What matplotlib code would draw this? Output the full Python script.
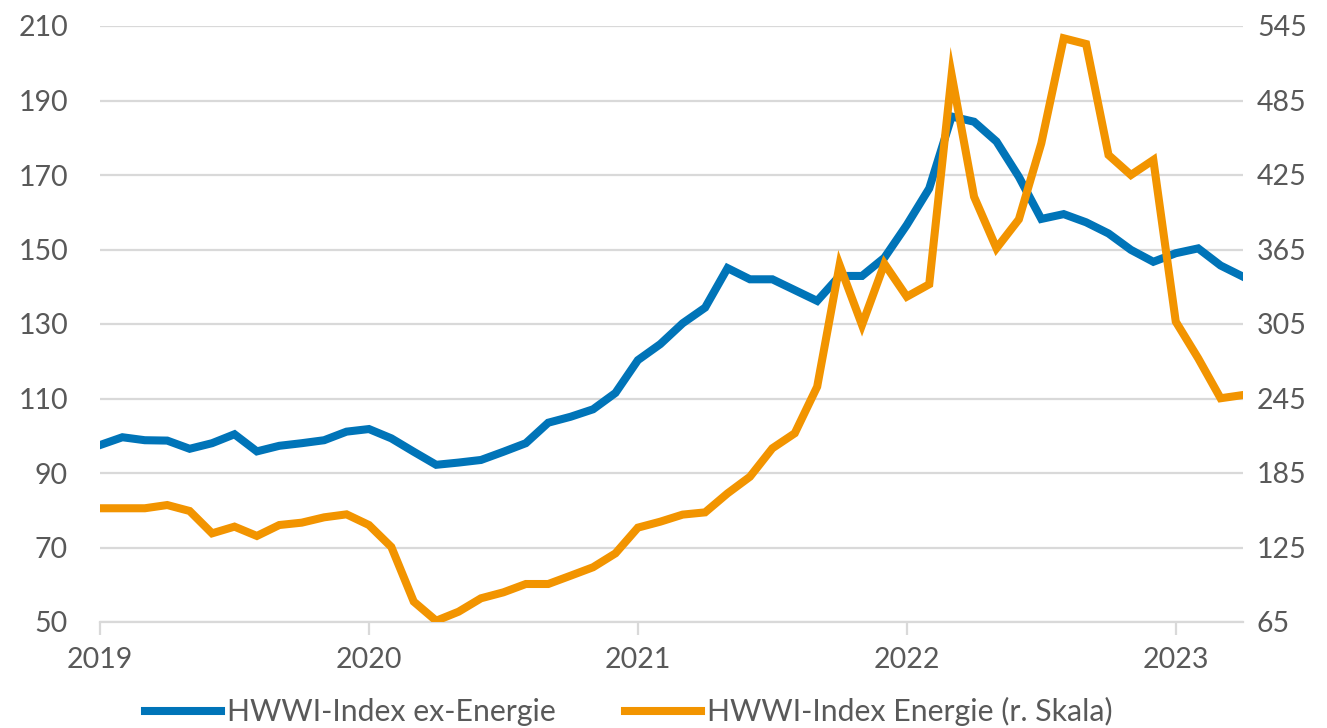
import matplotlib.pyplot as plt
import numpy as np

# Monthly values, Jan 2019 - Apr 2023
ex_energie = [
    97.5, 99.6, 98.8, 98.7, 96.5, 98.0, 100.4, 95.8, 97.3, 98.0, 98.8, 101.1,
    101.8, 99.3, 95.7, 92.2, 92.8, 93.5, 95.7, 98.0, 103.5, 105.1, 107.1, 111.5,
    120.3, 124.6, 130.2, 134.4, 145.0, 142.0, 142.0, 139.1, 136.2, 142.9, 142.9, 147.8,
    156.6, 166.4, 185.7, 184.3, 179.0, 169.5, 158.2, 159.5, 157.3, 154.3, 149.9, 146.7,
    149.0, 150.3, 145.7, 142.7,
]
energie = [
    156.6, 156.6, 156.6, 159.2, 154.4, 136.4, 141.8, 134.3, 143.1, 145.0, 149.3, 151.7,
    143.1, 125.4, 81.4, 66.0, 73.3, 84.1, 88.9, 95.6, 95.6, 102.3, 109.1, 120.3,
    141.0, 145.8, 151.5, 153.3, 168.6, 182.0, 204.9, 217.0, 254.5, 352.5, 304.2, 353.5,
    327.0, 337.0, 505.6, 407.5, 366.0, 389.3, 450.5, 535.1, 530.5, 441.1, 425.0, 437.1,
    306.9, 277.4, 245.2, 247.8,
]
year_labels = ["2019", "2020", "2021", "2022", "2023"]
series_labels = ["HWWI-Index ex-Energie", "HWWI-Index Energie (r. Skala)"]

BLUE = "#0074B8"
ORANGE = "#F29400"
GRID = "#D9D9D9"
TEXT = "#595959"

plt.rcParams["font.family"] = ["Lato", "DejaVu Sans"]

fig = plt.figure(figsize=(13.27, 7.28), dpi=100)
ax = fig.add_axes([100 / 1327, 1 - 622 / 728, 1143 / 1327, 596 / 728])
ax2 = ax.twinx()

x = np.arange(len(ex_energie))
l1, = ax.plot(x, ex_energie, color=BLUE, lw=5.8, solid_joinstyle="miter", zorder=3)
l2, = ax2.plot(x, energie, color=ORANGE, lw=5.8, solid_joinstyle="miter", zorder=3)

ax.set_xlim(0, len(x) - 1)
ax.set_ylim(50, 210)
ax2.set_ylim(65, 545)
ax.set_yticks(np.arange(50, 211, 20))
ax2.set_yticks(np.arange(65, 546, 60))
ax.set_xticks(np.arange(0, len(x), 12))
ax.set_xticklabels(year_labels)

ax.grid(axis="y", color=GRID, lw=1.6)
ax.set_axisbelow(True)
for a in (ax, ax2):
    for s in ("top", "left", "right"):
        a.spines[s].set_visible(False)
    a.spines["bottom"].set_color(GRID)
    a.spines["bottom"].set_linewidth(1.6)
ax2.spines["bottom"].set_visible(False)

ax.tick_params(axis="y", length=0, pad=23, labelsize=20.5, labelcolor=TEXT)
ax2.tick_params(axis="y", length=0, pad=10, labelsize=20.5, labelcolor=TEXT)
ax.tick_params(axis="x", length=9, width=1.6, color=GRID, pad=9,
               labelsize=20.5, labelcolor=TEXT)

leg = fig.legend([l1, l2], series_labels, loc="lower center",
                 bbox_to_anchor=(0.474, -0.035), ncol=2, frameon=False,
                 fontsize=21.8, handlelength=2.5, handletextpad=0.2,
                 columnspacing=2.3)
for t in leg.get_texts():
    t.set_color(TEXT)

fig.savefig("out.png", dpi=100)
